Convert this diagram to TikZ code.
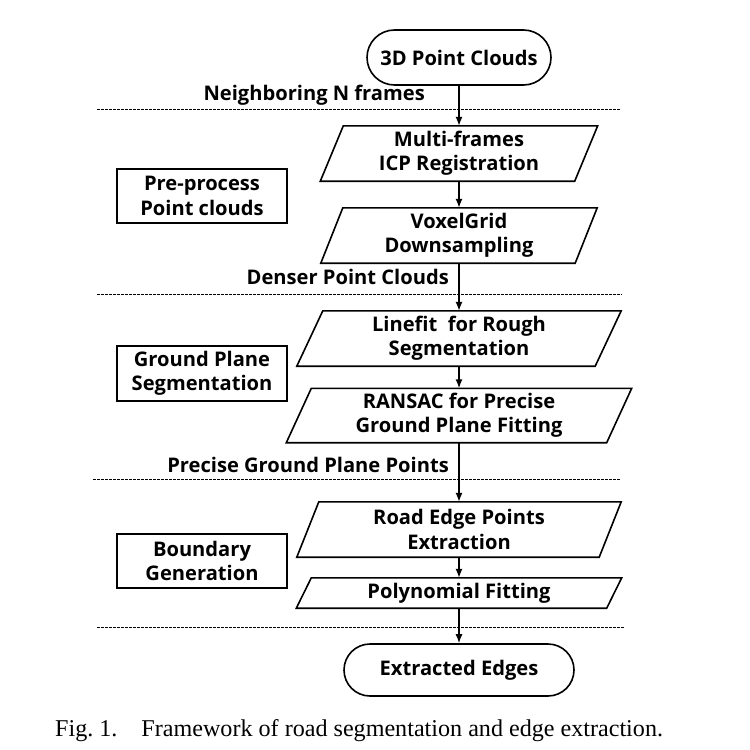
\documentclass[tikz,border=0pt]{standalone}
\usepackage{fontspec}
\setmainfont{Liberation Serif}
\newfontfamily\flowfont{Open Sans}
\usetikzlibrary{arrows.meta,calc}
\newcommand\slantbox[2]{\draw[line width=1.6bp] ($(#1.north west)+(#2,0)$) -- (#1.north east) -- ($(#1.south east)-(#2,0)$) -- (#1.south west) -- cycle;}
\begin{document}
\begin{tikzpicture}[x=1bp,y=-1bp,
  txt/.style={font=\flowfont\bfseries\fontsize{20.2}{24.5}\selectfont, align=center, inner sep=0pt},
  term/.style={txt, draw, line width=1.6bp},
  sidebox/.style={txt, draw, line width=1.6bp, minimum width=170bp},
  pbody/.style={txt},
  flow/.style={-{Latex[length=9bp,width=7bp]}, line width=1.4bp},
  sep/.style={line width=1bp, dash pattern=on 2.5bp off 1.5bp},
  lab/.style={txt, anchor=east}]
\useasboundingbox[fill=white] (0,0) rectangle (750,750);

\node[term, minimum width=184bp, minimum height=55bp, rounded corners=27.5bp] (t1) at (459,57.5) {3D Point Clouds};
\node[pbody, minimum width=277bp, minimum height=55bp] (p1) at (459,153.5) {Multi-frames\\ICP Registration};
\node[pbody, minimum width=276bp, minimum height=55bp] (p2) at (459,235.5) {VoxelGrid\\Downsampling};
\node[pbody, minimum width=324bp, minimum height=55bp] (p3) at (459,338.5) {Linefit\ \ for Rough\\Segmentation};
\node[pbody, minimum width=345bp, minimum height=54bp] (p4) at (459,415.5) {RANSAC for Precise\\Ground Plane Fitting};
\node[pbody, minimum width=324bp, minimum height=55bp] (p5) at (459,529.5) {Road Edge Points\\Extraction};
\node[pbody, minimum width=325bp, minimum height=30bp] (p6) at (459,593) {Polynomial Fitting};
\node[term, minimum width=230bp, minimum height=52bp, rounded corners=26bp] (t2) at (459,670) {Extracted Edges};

\slantbox{p1}{23}
\slantbox{p2}{22}
\slantbox{p3}{26}
\slantbox{p4}{25}
\slantbox{p5}{22}
\slantbox{p6}{15}

\node[sidebox, minimum height=54bp] (b1) at (202,196) {Pre-process\\Point clouds};
\node[sidebox, minimum height=55bp] (b2) at (202,373.5) {Ground Plane\\Segmentation};
\node[sidebox, minimum height=54bp] (b3) at (202,561) {Boundary\\Generation};

\node[lab] (l1) at (425,95) {Neighboring N frames};
\node[lab] (l2) at (449,277) {Denser Point Clouds};
\node[lab] (l3) at (449,465) {Precise Ground Plane Points};

\coordinate (d1a) at (97,109);  \coordinate (d1b) at (621,109);
\coordinate (d2a) at (97,294);  \coordinate (d2b) at (622,294);
\coordinate (d3a) at (93,479);  \coordinate (d3b) at (621,479);
\coordinate (d4a) at (97,627);  \coordinate (d4b) at (624,627);
\draw[sep] (d1a) -- (d1b);
\draw[sep] (d2a) -- (d2b);
\draw[sep] (d3a) -- (d3b);
\draw[sep] (d4a) -- (d4b);

\draw[flow] (t1.south) -- (p1.north);
\draw[flow] (p1.south) -- (p2.north);
\draw[flow] (p2.south) -- (p3.north);
\draw[flow] (p3.south) -- (p4.north);
\draw[flow] (p4.south) -- (p5.north);
\draw[flow] (p5.south) -- (p6.north);
\draw[flow] (p6.south) -- (t2.north);

\node[anchor=base west, inner sep=0pt, font=\fontsize{24.2}{28}\selectfont] (cap) at (55,736) {Fig.~1.\hspace{24bp}Framework of road segmentation and edge extraction.};
\end{tikzpicture}
\end{document}
